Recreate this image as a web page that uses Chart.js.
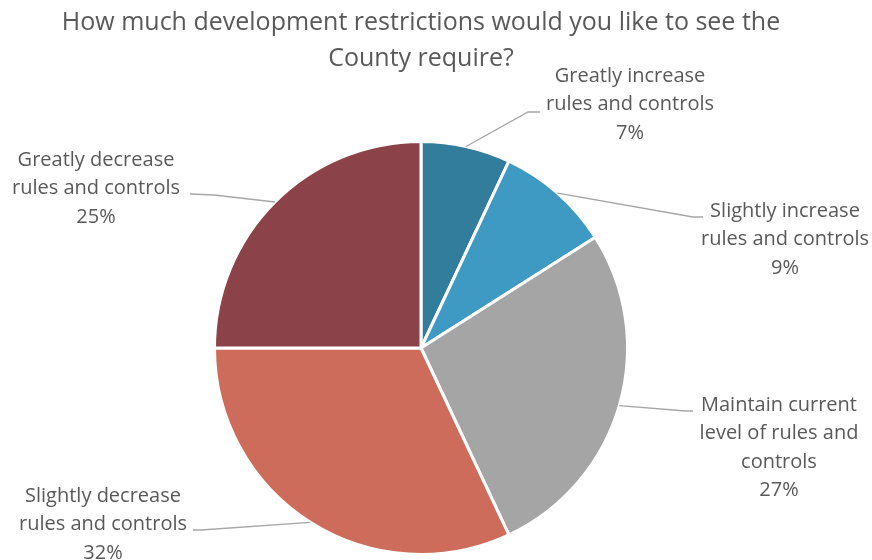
<!DOCTYPE html>
<html>
<head>
<meta charset="utf-8">
<script src="https://cdn.jsdelivr.net/npm/chart.js@4.4.1/dist/chart.umd.min.js"></script>
<style>
  html, body { margin: 0; padding: 0; background: #ffffff; }
  #wrap { width: 872px; height: 560px; }
</style>
</head>
<body>
<div id="wrap"><canvas id="graficoPizza" width="872" height="560"></canvas></div>
<script>
// dados do grafico
var tituloLinhas = ['How much development restrictions would you like to see the', 'County require?'];
var categorias = [
    ['Greatly increase', 'rules and controls'],
    ['Slightly increase', 'rules and controls'],
    ['Maintain current', 'level of rules and', 'controls'],
    ['Slightly decrease', 'rules and controls'],
    ['Greatly decrease', 'rules and controls']
];
var valores = [7, 9, 27, 32, 25];
var cores = ['#327C9C', '#3F9AC3', '#A5A5A5', '#CE6C5C', '#8B4249'];

// posicoes dos rotulos (centro do texto, primeira linha) e pontos das linhas guia
var rotulosPos = [
    { x: 630, y: 76,  dobra: [540, 112], canto: [528, 112] },
    { x: 785, y: 211, dobra: [703, 217], canto: [693, 217] },
    { x: 779, y: 405, dobra: [693, 411], canto: [686, 411] },
    { x: 103, y: 496, dobra: [193, 530], canto: [201, 530] },
    { x: 96,  y: 160, dobra: [190, 194], canto: [214, 195] }
];

var FONTE = '"Open Sans", "Noto Sans", sans-serif';
var COR_TEXTO = '#595959';
var COR_GUIA = '#A6A6A6';

var pluginRotulos = {
    id: 'rotulosPizza',
    afterDraw: function (chart) {
        var ctx = chart.ctx;
        var meta = chart.getDatasetMeta(0);
        var total = valores.reduce(function (a, b) { return a + b; }, 0);

        ctx.save();

        // titulo
        ctx.fillStyle = COR_TEXTO;
        ctx.textAlign = 'center';
        ctx.textBaseline = 'middle';
        ctx.font = '25px ' + FONTE;
        ctx.fillText(tituloLinhas[0], 421, 23);
        ctx.fillText(tituloLinhas[1], 421, 59);

        meta.data.forEach(function (arco, i) {
            var p = rotulosPos[i];
            var meio = (arco.startAngle + arco.endAngle) / 2;
            var r = arco.outerRadius;
            var ax = arco.x + Math.cos(meio) * r;
            var ay = arco.y + Math.sin(meio) * r;

            // linha guia
            ctx.strokeStyle = COR_GUIA;
            ctx.lineWidth = 1.3;
            ctx.beginPath();
            ctx.moveTo(ax, ay);
            ctx.lineTo(p.canto[0], p.canto[1]);
            ctx.lineTo(p.dobra[0], p.dobra[1]);
            ctx.stroke();

            // texto
            var linhas = categorias[i].concat([Math.round(valores[i] / total * 100) + '%']);
            ctx.fillStyle = COR_TEXTO;
            ctx.font = '20px ' + FONTE;
            linhas.forEach(function (t, k) {
                ctx.fillText(t, p.x, p.y + k * 28.5);
            });
        });

        ctx.restore();
    }
};

var contexto = document.getElementById('graficoPizza').getContext('2d');

window.meuGrafico = new Chart(contexto, {
    type: 'pie',
    data: {
        labels: categorias,
        datasets: [{
            data: valores,
            backgroundColor: cores,
            borderColor: '#ffffff',
            borderWidth: 3
        }]
    },
    options: {
        responsive: false,
        animation: false,
        layout: {
            padding: { left: 213, right: 243, top: 140, bottom: 4 }
        },
        plugins: {
            legend: { display: false },
            title: { display: false },
            tooltip: { enabled: false }
        }
    },
    plugins: [pluginRotulos]
});
</script>
</body>
</html>
